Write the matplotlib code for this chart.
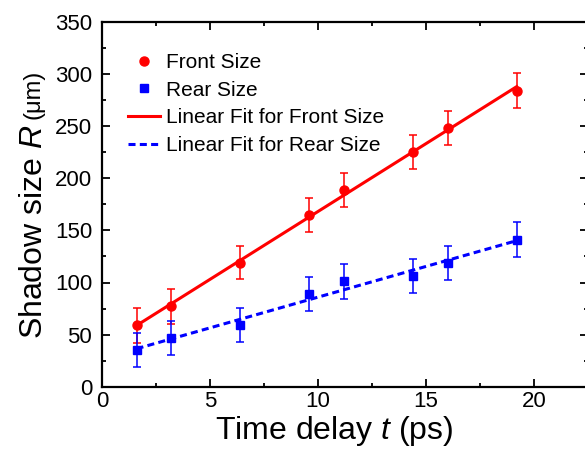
import numpy as np
import matplotlib
matplotlib.use("Agg")
import matplotlib.pyplot as plt

# 폰트 설정 (Arial 대신 Liberation Sans)
plt.rcParams['font.family'] = ['Liberation Sans', 'DejaVu Sans']
plt.rcParams['mathtext.fontset'] = 'custom'
plt.rcParams['mathtext.rm'] = 'Liberation Sans'
plt.rcParams['mathtext.it'] = 'Liberation Sans:italic'

# 데이터
time_delay = [1.6, 3.2, 6.4, 9.6, 11.2, 14.4, 16.0, 19.2]
front_size = [59, 77, 119, 165, 189, 225, 248, 284]
front_err = [17, 16.5, 16, 16.5, 16.5, 16.5, 16.5, 17]
rear_size = [35, 47, 59, 89, 101, 106, 119, 141]
rear_err = [16.5, 16.5, 16.5, 16.5, 16.5, 16.5, 16.5, 17]

x_ticks = [0, 5, 10, 15, 20]
y_ticks = [0, 50, 100, 150, 200, 250, 300, 350]

# 선형 피팅
t = np.array(time_delay)
pf = np.polyfit(t, front_size, 1)
pr = np.polyfit(t, rear_size, 1)
t_fit = np.array([t.min(), t.max()])

fig = plt.figure(figsize=(5.85, 4.55), dpi=100)
ax = fig.add_axes([102 / 585, 68.3 / 455, 486 / 585, 364.7 / 455])

fit_f, = ax.plot(t_fit, np.polyval(pf, t_fit), '-', color='#ff0000', lw=2.2,
                 label='Linear Fit for Front Size')
fit_r, = ax.plot(t_fit, np.polyval(pr, t_fit), color='#0000ff', lw=2.2,
                 linestyle=(0, (2.3, 1.4)), label='Linear Fit for Rear Size')

ax.errorbar(time_delay, front_size, yerr=front_err, fmt='none', ecolor='#ff0000',
            elinewidth=1.1, capsize=3.2, capthick=1.1)
ax.errorbar(time_delay, rear_size, yerr=rear_err, fmt='none', ecolor='#0000ff',
            elinewidth=1.1, capsize=3.2, capthick=1.1)
pts_f, = ax.plot(time_delay, front_size, 'o', color='#ff0000', ms=6.5, ls='none',
                 label='Front Size')
pts_r, = ax.plot(time_delay, rear_size, 's', color='#0000ff', ms=5.5, ls='none',
                 label='Rear Size')

ax.set_xlim(0, 22.5)
ax.set_ylim(0, 350)
ax.set_xticks(x_ticks)
ax.set_yticks(y_ticks)
ax.set_xticks(np.arange(2.5, 22.5, 5), minor=True)
ax.set_yticks(np.arange(25, 350, 50), minor=True)
ax.tick_params(which='both', direction='in', top=True, right=True, width=1.3,
               labelsize=16)
ax.tick_params(axis='x', pad=3)
ax.tick_params(axis='y', pad=7)
ax.tick_params(which='major', length=6)
ax.tick_params(which='minor', length=3)
for s in ax.spines.values():
    s.set_linewidth(1.6)

ax.set_xlabel('Time delay $\\mathit{t}$ (ps)', fontsize=23)
ax.xaxis.set_label_coords(0.477, -0.075)

lab_x = -0.11
ylab = ax.set_ylabel('Shadow size $\\mathit{R}$', fontsize=23)
ax.yaxis.set_label_coords(lab_x, 0.5)

leg = ax.legend(handles=[pts_f, pts_r, fit_f, fit_r], loc='upper left',
                frameon=False, fontsize=15, handlelength=1.55, handletextpad=0.3,
                labelspacing=0.42, borderpad=0,
                bbox_to_anchor=(0.053, 0.915), borderaxespad=0)

# (μm) 부분은 작은 글씨로 따로 배치
fig.canvas.draw()
r = fig.canvas.get_renderer()
um = fig.text(0, 0, '(μm)', fontsize=17, rotation=90, ha='center', va='bottom')
w_um = um.get_window_extent(r).height
shift = (w_um + 5) / 2 / (ax.get_window_extent(r).height)
ax.yaxis.set_label_coords(lab_x, 0.5 - shift)
fig.canvas.draw()
bb = ylab.get_window_extent(r)
um.set_position(((bb.x0 + bb.x1) / 2 / fig.bbox.width, (bb.y1 + 5) / fig.bbox.height))

fig.savefig('out.png', dpi=100)
